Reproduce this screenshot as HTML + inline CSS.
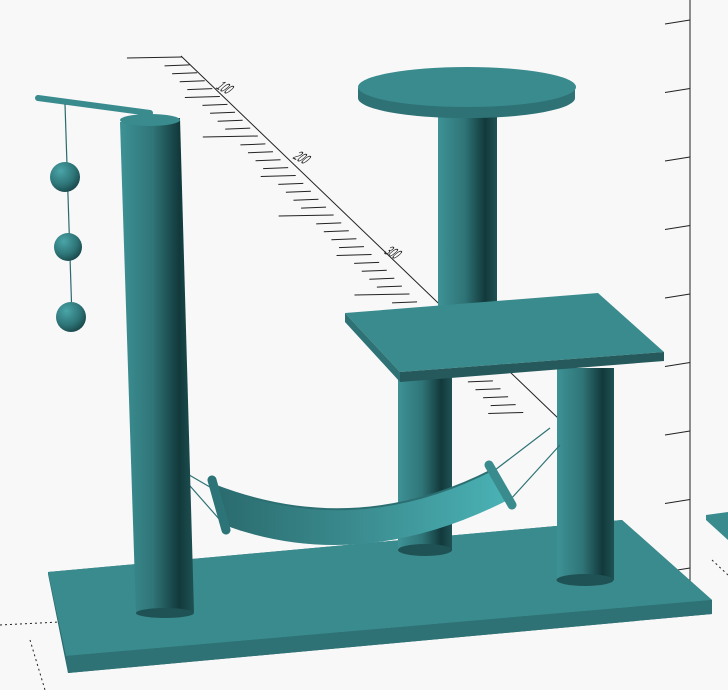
<!DOCTYPE html>
<html><head><meta charset="utf-8"><style>
html,body{margin:0;padding:0;background:#f8f8f8;}
svg{display:block;}
</style></head><body>
<svg id="scene" width="728" height="690" viewBox="0 0 728 690" xmlns="http://www.w3.org/2000/svg">
<defs>
<linearGradient id="cyl" x1="0" x2="1" y1="0" y2="0">
<stop offset="0" stop-color="#3d9295"/><stop offset="0.45" stop-color="#2f7477"/><stop offset="0.8" stop-color="#12393b"/><stop offset="1" stop-color="#1f5254"/>
</linearGradient>
<linearGradient id="ham" x1="0" x2="1" y1="0" y2="0">
<stop offset="0" stop-color="#2a6a6d"/><stop offset="0.5" stop-color="#3b8d90"/><stop offset="1" stop-color="#4ab2b5"/>
</linearGradient>
<radialGradient id="ball" cx="0.35" cy="0.3" r="0.8">
<stop offset="0" stop-color="#4aa5a8"/><stop offset="0.6" stop-color="#2d7376"/><stop offset="1" stop-color="#153f41"/>
</radialGradient>
</defs>
<g id="grid" stroke="#222" stroke-width="1" fill="none"></g>
<g font-family="Liberation Sans, sans-serif" font-size="11" fill="#222">
<text transform="translate(215,88) skewX(-40) rotate(20)">100</text>
<text transform="translate(292,158) skewX(-40) rotate(20)">200</text>
<text transform="translate(383,253) skewX(-40) rotate(20)">300</text>
</g>
<g stroke="#222" stroke-dasharray="2,3" fill="none">
<path d="M0 625 L60 622"/><path d="M30 640 L45 690"/><path d="M712 560 L728 575"/>
</g>
<rect x="2" y="602" width="22" height="14" fill="none" stroke="#222" transform="skewX(-20)"/>
<!-- base -->
<g>
<polygon points="48,572 622,520 712,600 712,614 68,673 48,574" fill="#2b6c6f"/>
<polygon points="48,572 622,520 712,600 66,656" fill="#3a8b8e"/>
<polygon points="66,656 712,600 712,614 68,673" fill="#2e7275"/>
</g>
<polygon points="706,515 728,512 728,540 706,520" fill="#3a8b8e"/>
<!-- lower posts -->
<g>
<rect x="398" y="372" width="54" height="178" fill="url(#cyl)"/>
<ellipse cx="425" cy="550" rx="27" ry="6" fill="#1f5254"/>
</g>
<g>
<rect x="557" y="368" width="57" height="212" fill="url(#cyl)"/>
<ellipse cx="585" cy="580" rx="28.5" ry="6" fill="#1f5254"/>
</g>
<!-- ropes -->
<g stroke="#2e7275" stroke-width="1.2">
<line x1="172" y1="465" x2="215" y2="490"/><line x1="183" y1="478" x2="220" y2="520"/>
<line x1="550" y1="428" x2="495" y2="470"/><line x1="560" y1="445" x2="510" y2="500"/>
</g>
<!-- left post -->
<g>
<polygon points="120,122 180,118 194,612 136,615" fill="url(#cyl)"/>
<ellipse cx="150" cy="120" rx="30" ry="6" fill="#3a8b8e"/>
<ellipse cx="165" cy="613" rx="29" ry="5" fill="#1f5254"/>
</g>
<!-- hammock -->
<g>
<path d="M214,485 Q355,540 492,470 L508,500 Q360,575 224,525 Z" fill="url(#ham)"/>
<path d="M214,485 Q355,540 492,470" stroke="#2c6f72" stroke-width="2" fill="none"/>
<line x1="212" y1="480" x2="226" y2="530" stroke="#2c7477" stroke-width="9" stroke-linecap="round"/>
<line x1="489" y1="465" x2="512" y2="505" stroke="#3a8b8e" stroke-width="9" stroke-linecap="round"/>
</g>
<!-- top bar and toys -->
<g>
<line x1="38" y1="98" x2="150" y2="113" stroke="#3a8b8e" stroke-width="6" stroke-linecap="round"/>
<line x1="65" y1="104" x2="72" y2="318" stroke="#2a6a6d" stroke-width="1.2"/>
<circle cx="65" cy="177" r="15" fill="url(#ball)"/>
<circle cx="68" cy="247" r="14" fill="url(#ball)"/>
<circle cx="71" cy="317" r="15" fill="url(#ball)"/>
</g>
<!-- upper post -->
<rect x="438" y="95" width="59" height="240" fill="url(#cyl)"/>
<ellipse cx="467" cy="335" rx="29.5" ry="5" fill="#1f5254"/>
<!-- middle platform -->
<g>
<polygon points="345,313 598,293 664,352 400,372" fill="#3a8b8e"/>
<polygon points="345,313 400,372 400,382 345,322" fill="#2e7275"/>
<polygon points="400,372 664,352 664,361 400,382" fill="#25595b"/>
</g>
<!-- top disc -->
<g>
<path d="M358,88 L358,98 A108,20 0 0 0 575,98 L575,88 Z" fill="#2e7275"/>
<ellipse cx="467" cy="87" rx="109" ry="20" fill="#3a8b8e"/>
</g>
</svg>
<script>
var g=document.getElementById('grid');
function ln(x1,y1,x2,y2,name){var l=document.createElementNS('http://www.w3.org/2000/svg','line');
l.setAttribute('x1',x1);l.setAttribute('y1',y1);l.setAttribute('x2',x2);l.setAttribute('y2',y2);


g.appendChild(l);}
ln(181,56,560,420,'ruler-axis');
for(var i=0;i<46;i++){var y=57+i*7.9,x=181+(y-56)*0.96;var len=(i%10==0)?55:(i%5==0?35:25);
ln(x-len,y+1,x,y,'ruler-tick');}
ln(690,0,690,600,'vertical-axis');
for(var j=0;j<9;j++){var yy=20+j*68.5;ln(665,yy+4,690,yy,'vertical-axis-tick');}
</script>
</body></html>
